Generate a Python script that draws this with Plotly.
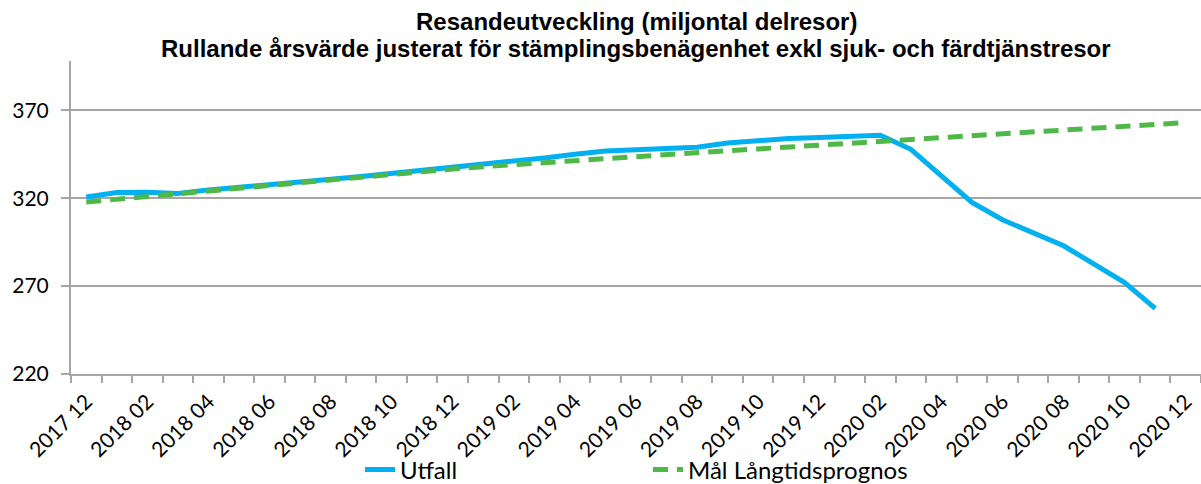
import plotly.graph_objects as go

months = ["2017 12", "2018 01", "2018 02", "2018 03", "2018 04", "2018 05", "2018 06",
          "2018 07", "2018 08", "2018 09", "2018 10", "2018 11", "2018 12",
          "2019 01", "2019 02", "2019 03", "2019 04", "2019 05", "2019 06",
          "2019 07", "2019 08", "2019 09", "2019 10", "2019 11", "2019 12",
          "2020 01", "2020 02", "2020 03", "2020 04", "2020 05", "2020 06",
          "2020 07", "2020 08", "2020 09", "2020 10", "2020 11", "2020 12"]

utfall = [320.7, 323.2, 323.4, 322.6, 324.7, 326.4, 328.0, 329.5, 330.8, 332.3,
          334.0, 335.9, 337.6, 339.3, 341.0, 342.9, 345.0, 346.8, 347.5, 348.0,
          349.0, 351.4, 352.9, 353.9, 354.5, 355.0, 355.8, 347.8, 332.7, 317.6,
          307.7, 300.5, 292.9, 282.5, 272.0, 257.3]

mal = [317.8, 319.4, 321.0, 322.6, 324.2, 325.9, 327.5, 329.1, 330.8, 332.3,
       333.8, 335.2, 336.6, 337.9, 339.1, 340.3, 341.6, 342.8, 343.8, 344.9,
       345.9, 347.0, 348.0, 349.1, 350.1, 351.2, 352.2, 353.3, 354.4, 355.5,
       356.5, 357.6, 358.7, 359.8, 360.8, 361.9, 363.0]

tick_labels = months[::2]
y_ticks = [220, 270, 320, 370]

title_line1 = "Resandeutveckling (miljontal delresor)"
title_line2 = "Rullande årsvärde justerat för stämplingsbenägenhet exkl sjuk- och färdtjänstresor"

xi_u = list(range(len(utfall)))
xi_m = list(range(len(mal)))

fig = go.Figure()
fig.add_trace(go.Scatter(x=xi_u, y=utfall, mode="lines", name="Utfall",
                         line=dict(color="#00B0F0", width=5)))
fig.add_trace(go.Scatter(x=xi_m, y=mal, mode="lines", name="Mål Långtidsprognos",
                         line=dict(color="#50B848", width=5, dash="15px,9px")))

grid_col = "#A6A6A6"
plot_top = 61
plot_h = 484 - 61 - 110

def paper_y(px):
    return 1 + (plot_top - px) / plot_h

title_font = dict(family="Liberation Sans, Arial", size=24, color="black")
fig.add_annotation(text="<b>" + title_line1 + "</b>", xref="paper", yref="paper",
                   x=0.5, y=paper_y(21), xanchor="center", yanchor="middle",
                   showarrow=False, font=title_font)
fig.add_annotation(text="<b>" + title_line2 + "</b>", xref="paper", yref="paper",
                   x=0.5, y=paper_y(48), xanchor="center", yanchor="middle",
                   showarrow=False, font=title_font)

fig.update_layout(
    width=1201, height=484,
    margin=dict(l=71, r=0, t=plot_top, b=110),
    paper_bgcolor="white", plot_bgcolor="white",
    font=dict(family="Lato", size=21, color="black"),
    xaxis=dict(
        range=[-0.5, len(months) - 0.5],
        tickmode="array",
        tickvals=list(range(0, len(months), 2)),
        ticktext=tick_labels,
        tickangle=-45,
        ticks="",
        showgrid=False,
        showline=True, linecolor=grid_col, linewidth=2,
        tickfont=dict(family="Lato", size=21, color="black"),
        ticklabelstandoff=5,
        minor=dict(tickmode="linear", tick0=-0.5, dtick=1, ticks="outside",
                   ticklen=7, tickwidth=2, tickcolor=grid_col, showgrid=False),
        zeroline=False,
        automargin=False,
    ),
    yaxis=dict(
        range=[220, 398],
        tickmode="array",
        tickvals=y_ticks,
        ticks="outside", ticklen=8, tickwidth=2, tickcolor=grid_col,
        showgrid=True, gridcolor=grid_col, gridwidth=1.5,
        showline=True, linecolor=grid_col, linewidth=2,
        tickfont=dict(family="Lato", size=21, color="black"),
        ticklabelstandoff=8,
        zeroline=False,
        automargin=False,
    ),
    legend=dict(orientation="h", x=(360 - 71) / 1130, xanchor="left",
                yref="container", y=(484 - 470) / 484, yanchor="middle",
                font=dict(family="Lato", size=24, color="black"),
                entrywidth=243, entrywidthmode="pixels",
                bgcolor="rgba(0,0,0,0)"),
    showlegend=True,
)

fig.write_html("out.html",
               config={"displayModeBar": False},
               post_script="document.body.style.margin='0';document.body.style.overflow='hidden';")
